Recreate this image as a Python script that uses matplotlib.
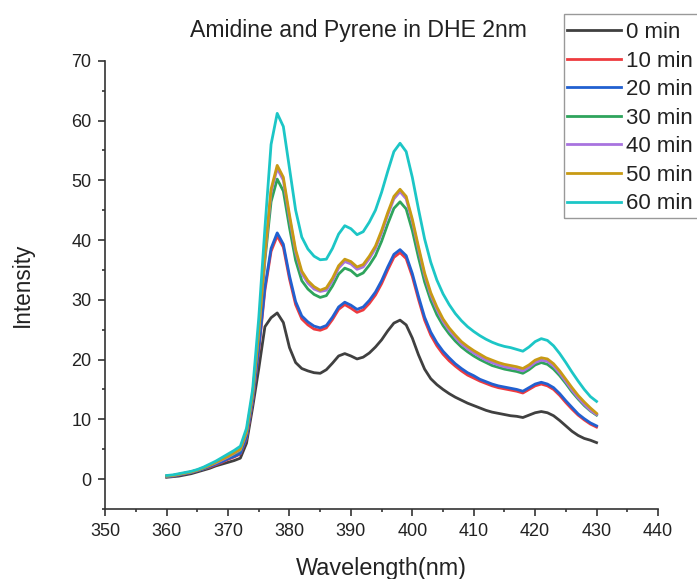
import numpy as np
import matplotlib
matplotlib.use("Agg")
import matplotlib.pyplot as plt
from matplotlib.ticker import MultipleLocator
from matplotlib.patches import Rectangle

plt.rcParams['font.family'] = ['Liberation Sans', 'DejaVu Sans']

# wavelength, 1 nm steps
wl = np.arange(360, 431)

# intensities
m0 = [0.3, 0.4, 0.5, 0.7, 0.9, 1.2, 1.5, 1.8, 2.2, 2.5, 2.8, 3.1, 3.5, 6.0, 12.0, 18.5, 25.5, 27.0, 27.8, 26.2,
      22.0, 19.5, 18.5, 18.1, 17.8, 17.7, 18.3, 19.4, 20.6, 21.0, 20.6, 20.1, 20.4, 21.1, 22.1, 23.3, 24.8, 26.1, 26.6, 25.8,
      23.6, 20.8, 18.4, 16.8, 15.8, 15.0, 14.3, 13.7, 13.2, 12.7, 12.3, 11.9, 11.5, 11.2, 11.0, 10.8, 10.6, 10.5, 10.3, 10.7,
      11.1, 11.3, 11.1, 10.6, 9.8, 8.9, 8.0, 7.3, 6.8, 6.5, 6.1]
m10 = [0.4, 0.5, 0.7, 0.9, 1.1, 1.4, 1.7, 2.0, 2.4, 2.8, 3.3, 3.7, 4.2, 6.8, 13.0, 21.5, 31.6, 38.1, 40.7, 38.8,
       33.5, 29.2, 26.8, 25.8, 25.1, 24.9, 25.3, 26.7, 28.4, 29.2, 28.6, 27.9, 28.3, 29.4, 30.8, 32.7, 35.0, 37.1, 37.9, 36.9,
       33.9, 30.1, 26.6, 24.1, 22.3, 20.9, 19.8, 18.9, 18.1, 17.4, 16.9, 16.4, 16.0, 15.6, 15.3, 15.1, 14.9, 14.7, 14.4, 15.0,
       15.6, 15.9, 15.6, 15.0, 14.0, 12.8, 11.7, 10.7, 9.9, 9.2, 8.7]
m20 = [0.4, 0.5, 0.7, 0.9, 1.1, 1.4, 1.7, 2.1, 2.5, 2.9, 3.4, 3.8, 4.3, 7.0, 13.2, 21.9, 32.1, 38.6, 41.2, 39.3,
       34.0, 29.7, 27.3, 26.3, 25.6, 25.3, 25.7, 27.1, 28.8, 29.6, 29.1, 28.4, 28.8, 29.9, 31.3, 33.2, 35.5, 37.6, 38.4, 37.4,
       34.4, 30.6, 27.1, 24.6, 22.8, 21.4, 20.3, 19.3, 18.5, 17.8, 17.3, 16.7, 16.3, 15.9, 15.6, 15.4, 15.2, 15.0, 14.7, 15.3,
       15.9, 16.2, 15.9, 15.3, 14.3, 13.1, 12.0, 10.9, 10.1, 9.4, 8.9]
m30 = [0.5, 0.6, 0.8, 1.0, 1.2, 1.5, 1.8, 2.3, 2.7, 3.2, 3.7, 4.2, 4.8, 7.7, 14.0, 24.2, 36.6, 46.4, 50.2, 48.2,
       42.1, 36.6, 33.2, 31.8, 30.9, 30.4, 30.7, 32.3, 34.3, 35.3, 34.9, 34.0, 34.5, 35.8, 37.4, 39.8, 42.7, 45.3, 46.4, 45.2,
       41.6, 37.1, 33.0, 29.9, 27.5, 25.7, 24.3, 23.1, 22.1, 21.3, 20.6, 20.0, 19.5, 19.0, 18.7, 18.4, 18.2, 18.0, 17.7, 18.3,
       19.1, 19.5, 19.2, 18.4, 17.3, 16.0, 14.6, 13.4, 12.3, 11.4, 10.7]
m40 = [0.5, 0.6, 0.8, 1.0, 1.2, 1.5, 1.9, 2.3, 2.7, 3.2, 3.7, 4.3, 4.9, 7.8, 14.1, 24.6, 37.3, 48.0, 52.0, 50.0,
       43.7, 38.0, 34.4, 32.8, 31.8, 31.4, 31.6, 33.2, 35.3, 36.4, 36.0, 35.1, 35.5, 36.9, 38.6, 41.2, 44.2, 46.9, 48.1, 46.9,
       43.1, 38.5, 34.1, 30.8, 28.4, 26.4, 24.9, 23.7, 22.6, 21.8, 21.1, 20.5, 19.9, 19.5, 19.1, 18.8, 18.6, 18.4, 18.1, 18.7,
       19.5, 19.9, 19.7, 18.9, 17.7, 16.3, 14.9, 13.6, 12.5, 11.5, 10.8]
m50 = [0.5, 0.6, 0.8, 1.0, 1.2, 1.5, 1.9, 2.3, 2.8, 3.3, 3.8, 4.4, 5.0, 7.9, 14.2, 24.8, 37.7, 48.5, 52.5, 50.5,
       44.2, 38.4, 34.8, 33.2, 32.2, 31.6, 32.0, 33.6, 35.7, 36.8, 36.4, 35.5, 35.9, 37.3, 39.0, 41.6, 44.6, 47.3, 48.5, 47.3,
       43.5, 38.9, 34.5, 31.2, 28.8, 26.8, 25.3, 24.1, 23.0, 22.2, 21.5, 20.9, 20.3, 19.9, 19.5, 19.2, 19.0, 18.8, 18.5, 19.1,
       19.9, 20.3, 20.1, 19.3, 18.1, 16.7, 15.3, 14.0, 12.9, 11.9, 11.0]
m60 = [0.6, 0.7, 0.9, 1.1, 1.3, 1.6, 2.0, 2.5, 3.0, 3.6, 4.2, 4.8, 5.5, 8.5, 15.0, 27.0, 42.0, 56.0, 61.2, 59.0,
       52.0, 45.0, 40.5, 38.5, 37.3, 36.7, 36.8, 38.6, 41.0, 42.4, 41.9, 40.9, 41.4, 43.0, 45.0, 48.0, 51.5, 54.8, 56.2, 54.8,
       50.5, 45.2, 40.2, 36.3, 33.3, 31.0, 29.2, 27.7, 26.5, 25.5, 24.7, 24.0, 23.4, 22.9, 22.5, 22.2, 22.0, 21.7, 21.4, 22.1,
       23.0, 23.5, 23.2, 22.3, 21.0, 19.5, 17.9, 16.4, 15.0, 13.8, 13.0]

series = [m0, m10, m20, m30, m40, m50, m60]
labels = ['0 min', '10 min', '20 min', '30 min', '40 min', '50 min', '60 min']
colors = ['#404040', '#ee3b3f', '#2160d0', '#2ea45c', '#a873df', '#c89a14', '#1cc6c6']

W, H = 697, 579
fig = plt.figure(figsize=(W / 100, H / 100), dpi=100)
ax = fig.add_axes([0.151, 0.121, 0.793, 0.774])

for y, lab, c in zip(series, labels, colors):
    ax.plot(wl, y, color=c, lw=2.0, label=lab)

ax.set_xlim(350, 440)
ax.set_ylim(-5, 70)
ax.xaxis.set_major_locator(MultipleLocator(10))
ax.xaxis.set_minor_locator(MultipleLocator(5))
ax.yaxis.set_major_locator(MultipleLocator(10))
ax.yaxis.set_minor_locator(MultipleLocator(5))
ax.spines['top'].set_visible(False)
ax.spines['right'].set_visible(False)
for s in ['left', 'bottom']:
    ax.spines[s].set_color('#333333')
    ax.spines[s].set_linewidth(1.2)
ax.tick_params(which='major', length=5, width=1.2, pad=5, labelsize=13,
               colors='#333333', labelcolor='#222222')
ax.tick_params(which='minor', length=2.5, width=1.2, colors='#333333')

# axis labels and title placed in figure pixels
fig.text(381 / W, 1 - 568 / H, 'Wavelength(nm)', ha='center', va='center', fontsize=16.8, color='#222222')
fig.text(22 / W, 1 - 285 / H, 'Intensity', ha='center', va='center', rotation=90, fontsize=16.3, color='#222222')
fig.text(358 / W, 1 - 30 / H, 'Amidine and Pyrene in DHE 2nm', ha='center', va='center', fontsize=16.6, color='#222222')

# legend (frame drawn separately so it can run off the right edge)
leg = ax.legend(loc='upper left', bbox_to_anchor=(567 / W, 1 - 22 / H), bbox_transform=fig.transFigure,
                frameon=False, fontsize=16, handlelength=2.43, handletextpad=0.23,
                labelspacing=0.34, borderpad=0, borderaxespad=0)
for t in leg.get_texts():
    t.set_color('#222222')
fig.add_artist(Rectangle((564 / W, 1 - 218 / H), 0.3, 204 / H, transform=fig.transFigure,
                         fill=False, edgecolor='#999999', lw=1.0))

fig.savefig('out.png', dpi=100)
